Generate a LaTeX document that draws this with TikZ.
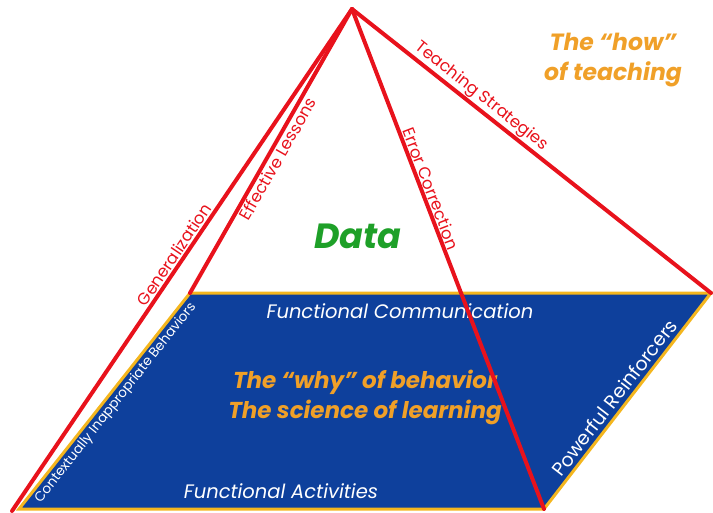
\documentclass[tikz,border=0pt]{standalone}
\usepackage{fontspec}
\setmainfont{Poppins}
\definecolor{pblue}{RGB}{14,64,156}
\definecolor{pgold}{RGB}{244,182,30}
\definecolor{pred}{RGB}{232,18,28}
\definecolor{porange}{RGB}{240,160,40}
\definecolor{pgreen}{RGB}{30,160,40}
\begin{document}
\begin{tikzpicture}[x=1pt,y=-1pt,
  redline/.style={draw=pred,line width=4pt,line cap=round,line join=round},
  base/.style={draw=pgold,line width=3pt,fill=pblue,line join=miter},
  redlbl/.style={text=pred,font=\fontsize{16.5}{18}\selectfont,inner sep=1pt,sloped},
  whitelbl/.style={text=white,inner sep=1pt},
  orangelbl/.style={text=porange,font=\fontsize{23.5}{30}\selectfont\bfseries\itshape,align=center},
]
\useasboundingbox (0,0) rectangle (713,512);
\coordinate (apex) at (352,9);
\coordinate (tl) at (190,293);
\coordinate (tr) at (711,293);
\coordinate (br) at (544,509);
\coordinate (bl) at (19,509);
\coordinate (gend) at (12,511);
% base parallelogram
\path[base] (bl) -- (tl) -- (tr) -- (br) -- cycle;
% labels of the base
\path (bl) -- (tl) node[whitelbl,sloped,pos=0.52,below=2pt,font=\fontsize{13.5}{15}\selectfont] (cib) {Contextually Inappropriate Behaviors};
\path (br) -- (tr) node[whitelbl,sloped,pos=0.48,above=4pt,font=\fontsize{19}{21}\selectfont] (pr) {Powerful Reinforcers};
\node[whitelbl,font=\fontsize{19.5}{22}\selectfont\itshape] (fc) at (400,311) {Functional Communication};
\node[whitelbl,font=\fontsize{19.5}{22}\selectfont\itshape] (fa) at (281,491) {Functional Activities};
\node[orangelbl,font=\fontsize{23}{30}\selectfont\bfseries\itshape] (why) at (365,397) {The “why” of behavior\\The science of learning};
% red lines
\draw[redline] (apex) -- (gend);
\draw[redline] (apex) -- (tl);
\draw[redline] (apex) -- (br);
\draw[redline] (apex) -- (tr);
% red labels
\path (gend) -- (apex) node[redlbl,pos=0.50,above=2pt] (gen) {Generalization};
\path (tl) -- (apex) node[redlbl,pos=0.49,below=2pt] (el) {Effective Lessons};
\path (apex) -- (br) node[redlbl,pos=0.366,above=2pt] (ec) {Error Correction};
\path (apex) -- (tr) node[redlbl,pos=0.34,above=2pt] (ts) {Teaching Strategies};
% titles
\node[text=pgreen,font=\fontsize{35}{38}\selectfont\bfseries\itshape] (data) at (358,236) {Data};
\node[orangelbl] (how) at (613,60) {The “how”\\of teaching};
\end{tikzpicture}
\end{document}
